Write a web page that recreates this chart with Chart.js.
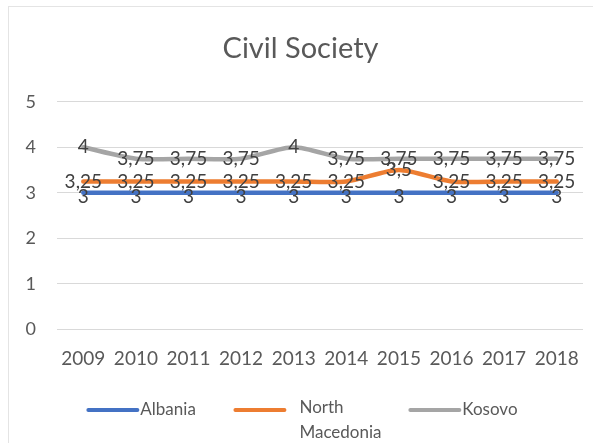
<!DOCTYPE html>
<html>
<head>
<meta charset="utf-8">
<script src="https://cdn.jsdelivr.net/npm/chart.js@4/dist/chart.umd.min.js"></script>
<style>
  html, body { margin: 0; padding: 0; background: #fff; }
  #wrap { width: 593px; height: 443px; position: relative; }
</style>
</head>
<body>
<div id="wrap"><canvas id="c" width="593" height="443"></canvas></div>
<script>
const years = ['2009', '2010', '2011', '2012', '2013', '2014', '2015', '2016', '2017', '2018'];
const albania = [3, 3, 3, 3, 3, 3, 3, 3, 3, 3];
const northMacedonia = [3.25, 3.25, 3.25, 3.25, 3.25, 3.25, 3.5, 3.25, 3.25, 3.25];
const kosovo = [4, 3.75, 3.75, 3.75, 4, 3.75, 3.75, 3.75, 3.75, 3.75];
const seriesNames = ['Albania', 'North Macedonia', 'Kosovo'];
const seriesColors = ['#4472C4', '#ED7D31', '#A5A5A5'];

const FONT = 'Lato, "Open Sans", sans-serif';
const TEXT = '#595959';

function fmt(v) { return String(v).replace('.', ','); }

// White card with a faint frame
const frame = {
  id: 'frame',
  beforeDraw(chart) {
    const ctx = chart.ctx;
    ctx.save();
    ctx.fillStyle = '#fff';
    ctx.fillRect(0, 0, chart.width, chart.height);
    ctx.strokeStyle = '#e4e4e4';
    ctx.lineWidth = 1;
    ctx.strokeRect(8.5, 6.5, chart.width, chart.height);
    ctx.restore();
  }
};

// Value labels centred on every point
const valueLabels = {
  id: 'valueLabels',
  afterDatasetsDraw(chart) {
    const ctx = chart.ctx;
    ctx.save();
    ctx.font = '19px ' + FONT;
    ctx.fillStyle = '#404040';
    ctx.textAlign = 'center';
    ctx.textBaseline = 'middle';
    chart.data.datasets.forEach((ds, i) => {
      const meta = chart.getDatasetMeta(i);
      meta.data.forEach((pt, j) => {
        const dy = ds.label === 'Albania' ? 4 : 0;
        ctx.fillText(fmt(ds.data[j]), pt.x, pt.y + dy);
      });
    });
    ctx.restore();
  }
};

// Legend along the bottom, with the long name wrapped onto two lines
const bottomLegend = {
  id: 'bottomLegend',
  afterDraw(chart) {
    const ctx = chart.ctx;
    const W = chart.width;
    const y = 410;
    const items = [
      { x0: W * 0.149, lines: ['Albania'] },
      { x0: W * 0.397, lines: ['North', 'Macedonia'], gap: 15 },
      { x0: W * 0.692, lines: ['Kosovo'] }
    ];
    ctx.save();
    ctx.font = '17px ' + FONT;
    ctx.textBaseline = 'middle';
    ctx.textAlign = 'left';
    items.forEach((it, i) => {
      ctx.strokeStyle = chart.data.datasets[i].borderColor;
      ctx.lineWidth = 4;
      ctx.lineCap = 'round';
      ctx.beginPath();
      ctx.moveTo(it.x0, y);
      ctx.lineTo(it.x0 + 49, y);
      ctx.stroke();
      ctx.fillStyle = TEXT;
      const tx = it.x0 + 49 + (it.gap || 3);
      const ty = it.lines.length > 1 ? y - 2 : y;
      it.lines.forEach((ln, k) => ctx.fillText(ln, tx, ty + k * 25));
    });
    ctx.restore();
  }
};

const datasets = [albania, northMacedonia, kosovo].map((data, i) => ({
  label: seriesNames[i],
  data: data,
  borderColor: seriesColors[i],
  backgroundColor: seriesColors[i],
  borderWidth: 4.5,
  pointRadius: 0,
  tension: 0.25,
  borderCapStyle: 'round'
}));

new Chart(document.getElementById('c'), {
  type: 'line',
  data: { labels: years, datasets: datasets },
  options: {
    responsive: false,
    animation: false,
    layout: { padding: { left: 18, right: 10, top: 0, bottom: 63 } },
    plugins: {
      legend: { display: false },
      tooltip: { enabled: false },
      title: {
        display: true,
        text: 'Civil Society',
        color: TEXT,
        font: { family: FONT, size: 29, weight: 'normal' },
        padding: { top: 31, bottom: 36 }
      }
    },
    scales: {
      x: {
        offset: true,
        grid: { display: false },
        border: { display: false },
        ticks: { color: TEXT, font: { family: FONT, size: 19 }, padding: 10, maxRotation: 0, autoSkip: false }
      },
      y: {
        min: 0,
        max: 5,
        ticks: { stepSize: 1, color: TEXT, font: { family: FONT, size: 18 }, padding: 21 },
        grid: { color: '#d9d9d9', drawTicks: false },
        border: { display: false },
        afterFit(scale) { scale.width = 39; }
      }
    }
  },
  plugins: [frame, valueLabels, bottomLegend]
});
</script>
</body>
</html>
